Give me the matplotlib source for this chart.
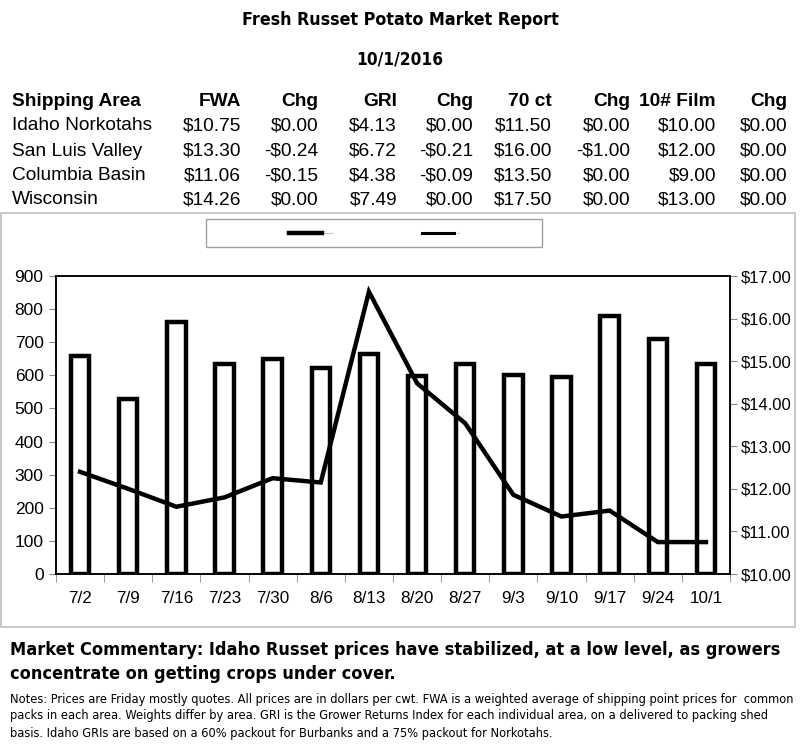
import matplotlib
matplotlib.use("Agg")
import matplotlib.pyplot as plt
from matplotlib.patches import Rectangle
from matplotlib.lines import Line2D
from matplotlib import font_manager as fm
from matplotlib.font_manager import FontProperties

# ---------------- data ----------------
weeks = ["7/2", "7/9", "7/16", "7/23", "7/30", "8/6", "8/13", "8/20", "8/27",
         "9/3", "9/10", "9/17", "9/24", "10/1"]
shipments = [657, 528, 762, 634, 649, 622, 663, 598, 634, 601, 595, 779, 709, 634]
fwa_price = [12.40, 12.00, 11.58, 11.80, 12.25, 12.15, 16.63, 14.48, 13.54,
             11.86, 11.35, 11.49, 10.75, 10.75]

table_headers = ["Shipping Area", "FWA", "Chg", "GRI", "Chg", "70 ct", "Chg", "10# Film", "Chg"]
areas = ["Idaho Norkotahs", "San Luis Valley", "Columbia Basin", "Wisconsin"]
fwa = ["$10.75", "$13.30", "$11.06", "$14.26"]
fwa_chg = ["$0.00", "-$0.24", "-$0.15", "$0.00"]
gri = ["$4.13", "$6.72", "$4.38", "$7.49"]
gri_chg = ["$0.00", "-$0.21", "-$0.09", "$0.00"]
ct70 = ["$11.50", "$16.00", "$13.50", "$17.50"]
ct70_chg = ["$0.00", "-$1.00", "$0.00", "$0.00"]
film10 = ["$10.00", "$12.00", "$9.00", "$13.00"]
film10_chg = ["$0.00", "$0.00", "$0.00", "$0.00"]

left_ticks = [0, 100, 200, 300, 400, 500, 600, 700, 800, 900]
right_ticks = [10, 11, 12, 13, 14, 15, 16, 17]

title = "Fresh Russet Potato Market Report"
date_text = "10/1/2016"
commentary = ["Market Commentary: Idaho Russet prices have stabilized, at a low level, as growers",
              "concentrate on getting crops under cover."]
notes = ["Notes: Prices are Friday mostly quotes. All prices are in dollars per cwt. FWA is a weighted average of shipping point prices for  common",
         "packs in each area. Weights differ by area. GRI is the Grower Returns Index for each individual area, on a delivered to packing shed",
         "basis. Idaho GRIs are based on a 60% packout for Burbanks and a 75% packout for Norkotahs."]

# ---------------- fonts ----------------
avail = {f.name for f in fm.fontManager.ttflist}
SANS = "Liberation Sans" if "Liberation Sans" in avail else "DejaVu Sans"
plt.rcParams["font.family"] = [SANS, "DejaVu Sans"]


def find_condensed(bold):
    pref = ["Liberation Sans Narrow", "Arial Narrow", "DejaVu Sans Condensed",
            "Roboto Condensed", "Open Sans Condensed", "Noto Sans Condensed"]
    cands = []
    for f in fm.fontManager.ttflist:
        nm = f.name
        st = str(f.stretch)
        fn = f.fname.lower()
        is_cond = ("narrow" in nm.lower() or "condensed" in nm.lower() or
                   "narrow" in fn or "condensed" in fn or st in ("condensed", "semi-condensed", "extra-condensed"))
        if not is_cond:
            continue
        w = f.weight if isinstance(f.weight, int) else (700 if "bold" in str(f.weight) else 400)
        isbold = w >= 600 or "bold" in fn
        if isbold != bold:
            continue
        if "italic" in fn or "oblique" in fn or f.style != "normal":
            continue
        rank = len(pref)
        for i, p in enumerate(pref):
            if p.lower() in nm.lower() or p.lower().replace(" ", "") in fn.replace("-", "").replace("_", ""):
                rank = i
                break
        cands.append((rank, f.fname))
    if cands:
        cands.sort()
        return FontProperties(fname=cands[0][1])
    return None


cond_bold = find_condensed(True)
cond_reg = find_condensed(False)

W, H = 800, 756
fig = plt.figure(figsize=(W / 100, H / 100), dpi=100)
renderer = fig.canvas.get_renderer()


def px(x, y):
    return x / W, 1 - y / H


def ftext(x, y, s, fp=None, target=None, **kw):
    fx, fy = px(x, y)
    if fp is not None:
        fp = fp.copy()
        fp.set_size(kw.pop("fontsize", 12))
        t = fig.text(fx, fy, s, fontproperties=fp, **kw)
    else:
        t = fig.text(fx, fy, s, **kw)
    if target is not None:
        for _ in range(3):
            w = t.get_window_extent(renderer).width
            t.set_fontsize(t.get_fontsize() * target / w)
    return t


# titles (condensed bold in reference; fit widths)
ftext(400, 20, title, fp=cond_bold if cond_bold else None, target=318,
      ha="center", va="center", fontsize=12, **({} if cond_bold else {"fontweight": "bold"}))
ftext(400, 60, date_text, fp=cond_bold if cond_bold else None, target=87,
      ha="center", va="center", fontsize=12, **({} if cond_bold else {"fontweight": "bold"}))

# table
col_right = [None, 241, 318, 397, 473, 552, 630, 716, 787]
row_y = [101, 126, 151, 176, 200]
columns = [areas, fwa, fwa_chg, gri, gri_chg, ct70, ct70_chg, film10, film10_chg]
TFS = 13.8
for j, hdr in enumerate(table_headers):
    if j == 0:
        ftext(12, row_y[0], hdr, ha="left", va="center", fontsize=TFS, fontweight="bold")
    else:
        ftext(col_right[j], row_y[0], hdr, ha="right", va="center", fontsize=TFS, fontweight="bold")
for j, col in enumerate(columns):
    for i, val in enumerate(col):
        if j == 0:
            ftext(12, row_y[i + 1], val, ha="left", va="center", fontsize=TFS)
        else:
            ftext(col_right[j], row_y[i + 1], val, ha="right", va="center", fontsize=TFS)

# outer chart frame
x0, y0 = px(1, 627)
x1, y1 = px(795, 213)
fig.add_artist(Rectangle((x0, y0), x1 - x0, y1 - y0, transform=fig.transFigure,
                         fill=False, edgecolor="#c4c4c4", linewidth=1.3))

# legend box
lx0, ly0 = px(206, 247)
lx1, ly1 = px(542, 219)
fig.add_artist(Rectangle((lx0, ly0), lx1 - lx0, ly1 - ly0, transform=fig.transFigure,
                         fill=False, edgecolor="#a0a0a0", linewidth=1.0))
a, b = px(289, 233)
c, d = px(322, 233)
fig.add_artist(Line2D([a, c], [b, d], transform=fig.transFigure, color="black", linewidth=3.2))
ftext(325, 233, "Shipments", ha="left", va="center", fontsize=1.5, color="#555555")
a, b = px(422, 233)
c, d = px(454, 233)
fig.add_artist(Line2D([a, c], [b, d], transform=fig.transFigure, color="black", linewidth=2.2))
ftext(457, 233, "FWA", ha="left", va="center", fontsize=1.5, color="#555555")

# main axes
ax_l, ax_b = px(56, 574)
ax_r, ax_t = px(730, 276)
ax = fig.add_axes([ax_l, ax_b, ax_r - ax_l, ax_t - ax_b])
xpos = list(range(len(weeks)))
ax.bar(xpos, shipments, width=0.38, facecolor="white", edgecolor="black", linewidth=3.2, zorder=2)
ax.set_xlim(-0.5, len(weeks) - 0.5)
ax.set_ylim(0, 900)
ax.set_yticks(left_ticks)
ax.set_yticklabels([str(t) for t in left_ticks])
ax.set_xticks(xpos)
ax.set_xticklabels(weeks)
ax.set_xticks([i - 0.5 for i in range(len(weeks) + 1)], minor=True)
ax.tick_params(axis="x", which="major", length=0, pad=12, labelsize=12.3)
ax.tick_params(axis="x", which="minor", length=6, color="#888888", direction="out")
ax.tick_params(axis="y", which="major", length=5, color="#888888", direction="out", labelsize=12.5, pad=4)
for sp in ax.spines.values():
    sp.set_linewidth(1.1)
    sp.set_color("black")

ax2 = ax.twinx()
ax2.plot(xpos, fwa_price, color="black", linewidth=3.2, solid_joinstyle="miter", zorder=3)
ax2.set_ylim(10, 17)
ax2.set_yticks(right_ticks)
ax2.set_yticklabels([f"${t:.2f}" for t in right_ticks])
ax2.tick_params(axis="y", length=5, color="#888888", direction="out", labelsize=12, pad=3)
for sp in ax2.spines.values():
    sp.set_linewidth(1.1)
    sp.set_color("black")

# commentary
cb_kw = {} if cond_bold else {"fontweight": "bold"}
t1 = ftext(10, 650, commentary[0], fp=cond_bold, target=773, ha="left", va="center", fontsize=14, **cb_kw)
ftext(10, 674, commentary[1], fp=cond_bold, ha="left", va="center", fontsize=t1.get_fontsize(), **cb_kw)
n1 = ftext(10, 699, notes[0], fp=cond_reg, target=785, ha="left", va="center", fontsize=9)
for i, line in enumerate(notes[1:], start=1):
    ftext(10, 699 + 17 * i, line, fp=cond_reg, ha="left", va="center", fontsize=n1.get_fontsize())

fig.savefig("out.png", dpi=100)
